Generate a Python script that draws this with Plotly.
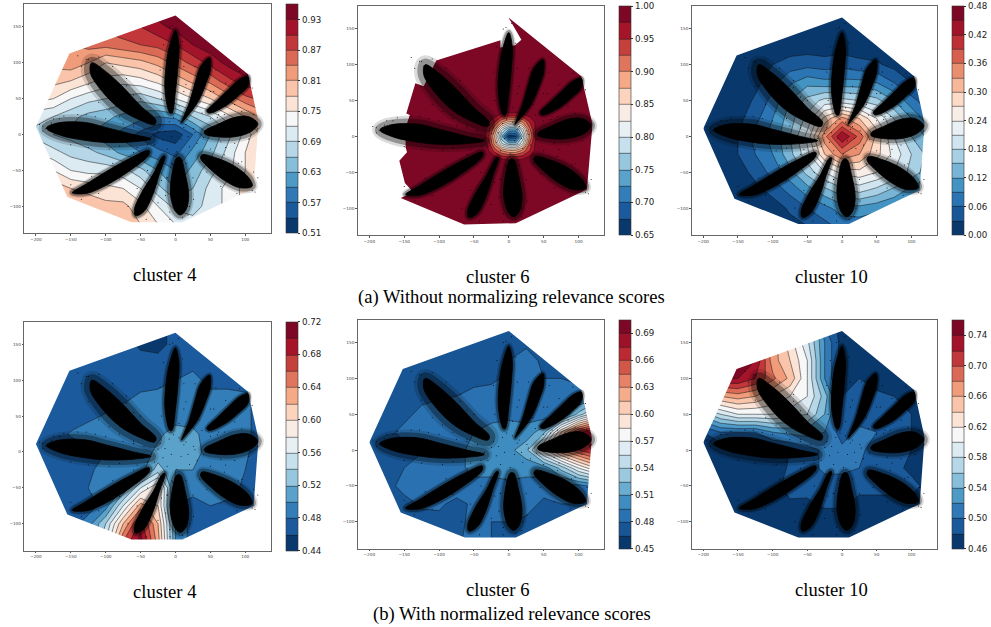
import plotly.graph_objects as go

W, H = 991, 627

# ---------- data ----------
grid_x = [-200,-175,-150,-125,-100,-75,-50,-25,0,25,50,75,100,125]
grid_y = [175,150,125,100,75,50,25,0,-25,-50,-75,-100,-125]

z_a4 = [
[.85,.87,.89,.90,.91,.92,.93,.95,.97,.97,.97,.97,.97,.97],
[.84,.85,.86,.87,.88,.89,.90,.92,.94,.95,.96,.97,.97,.97],
[.83,.84,.84,.85,.85,.86,.87,.88,.90,.93,.95,.96,.97,.97],
[.82,.82,.83,.81,.78,.79,.80,.82,.85,.88,.91,.94,.96,.97],
[.79,.79,.78,.76,.74,.73,.74,.76,.79,.82,.85,.89,.92,.92],
[.76,.75,.72,.70,.69,.68,.67,.69,.72,.75,.78,.82,.86,.88],
[.70,.69,.67,.65,.64,.62,.61,.60,.61,.66,.69,.74,.78,.82],
[.68,.66,.65,.63,.61,.59,.56,.53,.52,.57,.63,.68,.73,.79],
[.72,.70,.68,.67,.65,.62,.60,.58,.56,.61,.65,.70,.75,.79],
[.78,.75,.72,.71,.71,.70,.67,.63,.60,.64,.68,.71,.75,.79],
[.82,.80,.78,.77,.76,.75,.72,.67,.63,.66,.70,.73,.76,.78],
[.83,.82,.81,.80,.79,.79,.76,.72,.68,.68,.70,.73,.76,.78],
[.84,.83,.82,.82,.81,.81,.78,.75,.72,.70,.71,.73,.76,.78],
]

z6_x = [-200,-40,-30,-20,-10,0,10,20,30,40,125]
z6_y = [180,40,30,20,10,0,-10,-20,-30,-40,-130]
z_a6 = [
[1,1,1,1,1,1,1,1,1,1,1],
[1,1,1,1,1,1,1,1,1,1,1],
[1,1,1,.985,.97,.965,.965,.97,.985,1,1],
[1,.995,.98,.95,.90,.87,.87,.90,.95,.985,1],
[1,.995,.97,.90,.81,.75,.74,.82,.92,.99,1],
[1,.995,.965,.87,.75,.66,.67,.78,.90,.985,1],
[1,.995,.97,.89,.80,.76,.76,.82,.93,.99,1],
[1,.995,.98,.94,.90,.88,.88,.91,.95,.99,1],
[1,1,1,.985,.97,.965,.965,.97,.985,1,1],
[1,1,1,1,1,1,1,1,1,1,1],
[1,1,1,1,1,1,1,1,1,1,1],
]

z_a10 = [
[.005,.005,.005,.005,.005,.005,.005,.005,.005,.005,.005,.005,.005,.005],
[.005,.005,.005,.005,.005,.005,.005,.005,.005,.005,.005,.005,.005,.005],
[.005,.005,.005,.005,.008,.012,.015,.012,.015,.012,.01,.005,.005,.005],
[.005,.005,.005,.008,.03,.045,.05,.045,.05,.04,.035,.02,.01,.005],
[.005,.005,.005,.02,.05,.085,.11,.10,.10,.10,.09,.06,.03,.02],
[.005,.005,.01,.035,.07,.12,.16,.19,.19,.18,.16,.12,.07,.04],
[.005,.005,.02,.05,.09,.135,.19,.28,.34,.30,.24,.18,.12,.07],
[.005,.01,.03,.07,.10,.15,.22,.35,.45,.38,.29,.21,.15,.11],
[.005,.01,.03,.06,.09,.14,.20,.30,.36,.33,.28,.23,.18,.14],
[.005,.005,.015,.04,.07,.11,.16,.21,.25,.26,.24,.21,.17,.13],
[.005,.005,.008,.02,.04,.07,.105,.14,.17,.19,.17,.14,.11,.09],
[.005,.005,.005,.01,.015,.035,.06,.08,.105,.11,.10,.09,.08,.07],
[.005,.005,.005,.005,.01,.02,.03,.05,.07,.07,.06,.06,.06,.06],
]

z_b4 = [
[.47,.47,.47,.47,.47,.47,.46,.45,.47,.47,.47,.47,.47,.47],
[.47,.47,.47,.47,.47,.47,.455,.45,.47,.47,.47,.47,.47,.47],
[.47,.47,.47,.47,.47,.47,.47,.47,.47,.47,.47,.47,.47,.47],
[.47,.47,.47,.47,.47,.47,.47,.47,.48,.49,.47,.47,.47,.47],
[.47,.47,.47,.47,.47,.475,.485,.49,.49,.49,.49,.49,.485,.47],
[.47,.47,.47,.475,.482,.49,.49,.49,.49,.49,.49,.49,.485,.47],
[.47,.47,.482,.49,.49,.49,.49,.495,.51,.505,.49,.49,.485,.47],
[.47,.47,.47,.475,.48,.485,.49,.505,.51,.51,.49,.49,.483,.47],
[.47,.47,.47,.475,.49,.49,.49,.53,.50,.50,.49,.49,.48,.47],
[.47,.47,.47,.48,.49,.50,.56,.60,.49,.49,.49,.49,.475,.47],
[.47,.47,.47,.47,.49,.56,.63,.60,.48,.47,.48,.475,.47,.47],
[.47,.47,.47,.49,.54,.62,.69,.62,.50,.47,.47,.47,.47,.47],
[.47,.47,.47,.50,.56,.66,.71,.63,.50,.47,.47,.47,.47,.47],
]

z_b6 = [
[.475,.475,.475,.475,.475,.475,.475,.475,.475,.475,.475,.475,.475,.475],
[.475,.475,.475,.475,.475,.475,.475,.475,.475,.475,.475,.475,.475,.475],
[.475,.475,.475,.475,.475,.475,.475,.475,.48,.49,.475,.475,.475,.475],
[.475,.475,.475,.475,.475,.475,.475,.475,.485,.49,.48,.48,.475,.475],
[.475,.475,.475,.475,.478,.48,.485,.49,.49,.49,.49,.49,.49,.50],
[.475,.475,.475,.485,.49,.49,.49,.49,.49,.49,.485,.49,.53,.57],
[.475,.475,.485,.49,.49,.49,.495,.50,.505,.50,.52,.60,.67,.70],
[.475,.475,.475,.478,.482,.49,.50,.505,.505,.52,.58,.63,.66,.68],
[.475,.475,.48,.49,.49,.49,.50,.50,.505,.50,.50,.53,.57,.60],
[.475,.475,.485,.49,.49,.49,.49,.49,.49,.49,.49,.49,.49,.50],
[.475,.475,.475,.482,.483,.475,.483,.49,.49,.49,.475,.48,.48,.47],
[.475,.475,.475,.475,.475,.475,.485,.48,.48,.475,.475,.475,.475,.475],
[.475,.475,.475,.475,.475,.475,.49,.48,.475,.475,.475,.475,.475,.475],
]

z_b10 = [
[.74,.75,.75,.74,.70,.66,.60,.50,.47,.47,.47,.47,.47,.47],
[.74,.75,.75,.72,.67,.63,.585,.52,.47,.47,.47,.47,.47,.47],
[.74,.75,.76,.74,.67,.64,.60,.52,.47,.47,.47,.47,.47,.47],
[.72,.74,.74,.72,.685,.655,.60,.52,.47,.48,.47,.47,.47,.47],
[.65,.66,.67,.66,.64,.62,.60,.55,.48,.49,.485,.48,.47,.47],
[.55,.58,.60,.60,.60,.59,.58,.54,.485,.49,.49,.49,.48,.47],
[.48,.50,.50,.50,.52,.525,.53,.52,.49,.505,.50,.485,.48,.47],
[.46,.465,.47,.47,.475,.48,.49,.505,.505,.505,.49,.485,.48,.47],
[.465,.465,.465,.47,.472,.482,.49,.505,.505,.50,.49,.49,.472,.465],
[.465,.465,.465,.465,.475,.485,.49,.49,.49,.49,.49,.49,.49,.47],
[.465,.465,.465,.465,.465,.478,.475,.485,.485,.47,.47,.47,.47,.465],
[.465,.465,.465,.465,.465,.465,.465,.465,.465,.465,.465,.465,.465,.465],
[.465,.465,.465,.465,.465,.465,.465,.465,.465,.465,.465,.465,.465,.465],
]

hull_x = [0,104,119,112,10,-63,-155,-200,-152]
hull_y = [166,84,18,-75,-122,-122,-87,11,113]
hull6_x = [104,120,112,10,-64,-155,-137,-149,-157,-146,-148,-148,-142,-147,-134,-122,-104,-12,-12,9,18,-0.5]
hull6_y = [84,17,-74,-121,-123,-86,-78,-65,-34,-22,-15,12,30,32,74,70,106,134,124,127,135,166]

arm_top = [(-8,30),(-15,60),(-13,100),(-8,125),(0,145),(5,125),(4,100),(0,60),(-5,30)]
arm_ne = [(9,17),(20,45),(28,72),(36,95),(49,107),(50,90),(44,72),(32,45),(12,20)]
arm_ene = [(45,33),(60,48),(76,63),(92,77),(104,81),(104,68),(90,54),(72,40),(48,30)]
arm_e = [(42,5),(60,14),(85,24),(105,25),(118,15),(108,4),(85,-3),(60,-3),(42,1)]
arm_se = [(38,-28),(60,-33),(85,-44),(105,-60),(110,-72),(92,-74),(72,-65),(52,-50),(36,-33)]
arm_s = [(2,-32),(-5,-55),(-7,-85),(0,-107),(7,-112),(15,-105),(19,-85),(14,-55),(7,-32)]
arm_ssw = [(-18,-30),(-32,-55),(-48,-80),(-59,-105),(-57,-113),(-45,-107),(-33,-85),(-23,-55),(-15,-30)]
arm_sw = [(-38,-22),(-65,-33),(-100,-52),(-130,-70),(-148,-81),(-128,-82),(-100,-71),(-65,-50),(-38,-28)]
arm_w = [(-35,-6),(-60,0),(-100,10),(-130,17),(-170,16),(-185,9),(-165,-1),(-130,-8),(-100,-11),(-60,-10)]
arm_nw = [(-28,20),(-50,40),(-75,66),(-100,88),(-120,100),(-122,86),(-105,60),(-80,36),(-55,22),(-30,14)]
arms = [arm_top, arm_ne, arm_ene, arm_e, arm_se, arm_s, arm_ssw, arm_sw, arm_w, arm_nw]
arm_halo = [4, 3, 3, 7, 6, 6, 4, 4, 9, 11]

stray_x = [-22,-15,-9,-3,5,12,18,26,31,-30,-18,-6,8,20,-25,-12,2,15,28,-35,-40,-190,-186,-178,-172,-166,-140,-128,-122,-110,-128,-118,-60,-70,-88,60,72,90,110,118,114,-4,4,-8,10,-20,-4,20,40,35,
 -175,-160,-150,-140,-125,-115,-100,-95,-80,-75,-60,-55,-45,-190,-195,
 -125,-110,-95,-80,-60,-70,-90,-110,-125,-135,-60,-50,
 50,70,95,112,65,85,105,118,
 50,70,95,112,45,65,88,110,
 -12,-14,-8,25,26,18,-5,15,
 -40,-55,-68,-12,-25,-42,
 -60,-90,-120,-150,-80,-110,-135,
 -20,-22,-17,-8,12,12,10,
 5,15,28,58,50,38,
 35,55,72,92,110,85,62]
stray_y = [12,5,18,24,20,10,-3,8,-12,-14,-8,-3,-6,-17,4,-20,-24,14,3,-3,-14,12,8,16,4,22,110,105,98,90,28,-6,44,68,-60,24,-18,-40,8,-60,-80,152,158,-118,-116,-64,-42,-100,-4,-38,
 22,26,-14,28,-18,25,22,-20,-16,15,12,-18,8,5,14,
 70,45,35,25,55,78,95,108,105,95,15,50,
 22,28,32,28,-10,-12,-6,8,
 -20,-28,-38,-52,-52,-72,-82,-78,
 -60,-85,-108,-60,-90,-112,-40,-40,
 -50,-75,-100,-60,-95,-118,
 -25,-40,-58,-70,-62,-82,-90,
 50,90,125,150,60,95,130,
 40,70,95,90,60,30,
 45,60,72,88,65,42,28]

panel_titles = ["cluster 4", "cluster 6", "cluster 10", "cluster 4", "cluster 6", "cluster 10"]
captions = ["(a) Without normalizing relevance scores", "(b) With normalized relevance scores"]

x_ticks = [-200,-150,-100,-50,0,50,100]
y_ticks = [-100,-50,0,50,100,150]

RDBU = ["rgb(9,56,108)","rgb(33,102,172)","rgb(67,147,195)","rgb(146,197,222)","rgb(209,229,240)",
        "rgb(247,247,247)","rgb(253,219,199)","rgb(244,165,130)","rgb(214,96,77)","rgb(178,24,43)","rgb(125,8,38)"]
colorscale = [[i/10, c] for i, c in enumerate(RDBU)]

panels = [
 (z_a4, grid_x, grid_y, .51, .96, .03, .06, (24.3,270.7,4.3,233.3), (286,297.7), hull_x, hull_y),
 (z_a6, z6_x, z6_y, .65, 1.0, .025, .05, (357.7,604,6.3,235), (619,631), hull6_x, hull6_y),
 (z_a10, grid_x, grid_y, 0, .48, .03, .06, (691.7,936.7,6.3,235), (952.3,964), hull_x, hull_y),
 (z_b4, grid_x, grid_y, .44, .72, .02, .04, (24.3,270.7,321.7,550.7), (286,297.7), hull_x, hull_y),
 (z_b6, grid_x, grid_y, .45, .705, .015, .03, (357.7,604,320,548.7), (619,631), hull_x, hull_y),
 (z_b10, grid_x, grid_y, .46, .76, .02, .04, (691.7,936.7,320,548.7), (952.3,964), hull_x, hull_y),
]
XR = [-216.7, 136.5]
YR = [-137.5, 181.5]
title_pos = [(165,274),(498,276),(831,276),(165,591),(498,589),(831,589)]
caption_pos = [(511.5,297),(511.5,614)]

fig = go.Figure()
layout = {}
for i, (z, gx, gy, vmin, vmax, step, tstep, box, bar, hx, hy) in enumerate(panels):
    n = i + 1
    xa, ya = f"x{n}", f"y{n}"
    l, r, t, b = box
    n_t = int(round((vmax - vmin) / tstep)) + 1
    ticks = [round(vmin + k * tstep, 3) for k in range(n_t)]
    fig.add_trace(go.Contour(
        x=gx, y=gy[::-1], z=z[::-1], xaxis=xa, yaxis=ya, zmin=vmin, zmax=vmax,
        colorscale=colorscale, autocontour=False,
        contours=dict(start=vmin + step, end=vmax - step, size=step, coloring="fill", showlines=True),
        line=dict(color="rgba(20,20,20,0.85)", width=0.6, smoothing=0), hoverinfo="skip",
        colorbar=dict(
            x=bar[0]/W, xanchor="left", y=1-(t+b)/2/H, yanchor="middle",
            len=(b-t)/H, lenmode="fraction", thickness=bar[1]-bar[0], thicknessmode="pixels",
            xpad=0, ypad=0, ticks="outside", ticklen=2.5, tickwidth=0.6, tickcolor="#333",
            tickvals=ticks, ticktext=[f"{v:.2f}" for v in ticks],
            tickfont=dict(family="DejaVu Sans", size=8.7, color="#222"),
            outlinewidth=0.6, outlinecolor="#333",
        ),
    ))
    # white mask outside the hull: outer rectangle counter-clockwise, hull clockwise
    mx = [XR[0], XR[1], XR[1], XR[0], XR[0]] + list(hx) + [hx[0], XR[0]]
    my = [YR[0], YR[0], YR[1], YR[1], YR[0]] + list(hy) + [hy[0], YR[0]]
    fig.add_trace(go.Scatter(x=mx, y=my, xaxis=xa, yaxis=ya, mode="lines", fill="toself",
                             fillcolor="white", line=dict(width=0), hoverinfo="skip", showlegend=False))
    for arm, hw in zip(arms, arm_halo):
        ax = [p[0] for p in arm] + [arm[0][0]]
        ay = [p[1] for p in arm] + [arm[0][1]]
        for w_factor, col, fc in [(1.6, "rgba(0,0,0,0.14)", "rgba(0,0,0,0)"),
                                  (1.0, "rgba(0,0,0,0.33)", "rgba(0,0,0,0)"),
                                  (0.0, "rgba(0,0,0,0.85)", "black")]:
            fig.add_trace(go.Scatter(x=ax, y=ay, xaxis=xa, yaxis=ya, mode="lines", fill="toself",
                                     fillcolor=fc, line=dict(color=col, width=hw*w_factor+1, shape="spline"),
                                     hoverinfo="skip", showlegend=False))
    fig.add_trace(go.Scatter(x=stray_x, y=stray_y, xaxis=xa, yaxis=ya, mode="markers",
                             marker=dict(color="black", size=1.0), hoverinfo="skip", showlegend=False))
    axis_common = dict(showgrid=False, zeroline=False, showline=True, mirror=True, linecolor="#666", linewidth=1,
                       ticks="outside", ticklen=1.5, tickwidth=0.5, tickcolor="#555",
                       tickfont=dict(family="DejaVu Sans", size=4.2, color="#444"))
    layout[f"xaxis{n}"] = dict(domain=[l/W, r/W], range=XR, anchor=ya, tickvals=x_ticks, **axis_common)
    layout[f"yaxis{n}"] = dict(domain=[1-b/H, 1-t/H], range=YR, anchor=xa, tickvals=y_ticks, **axis_common)

ann = []
for text, (px, py) in zip(panel_titles + captions, title_pos + caption_pos):
    ann.append(dict(text=text, x=px/W, y=1-py/H, xref="paper", yref="paper", showarrow=False,
                    xanchor="center", yanchor="middle",
                    font=dict(family="Liberation Serif", size=18.6, color="black")))

fig.update_layout(width=W, height=H, margin=dict(l=0, r=0, t=0, b=0), paper_bgcolor="white",
                  plot_bgcolor="white", showlegend=False, annotations=ann, **layout)
fig.write_html("out.html", config={"displayModeBar": False},
               post_script="document.body.style.margin='0';document.body.style.overflow='hidden';")
